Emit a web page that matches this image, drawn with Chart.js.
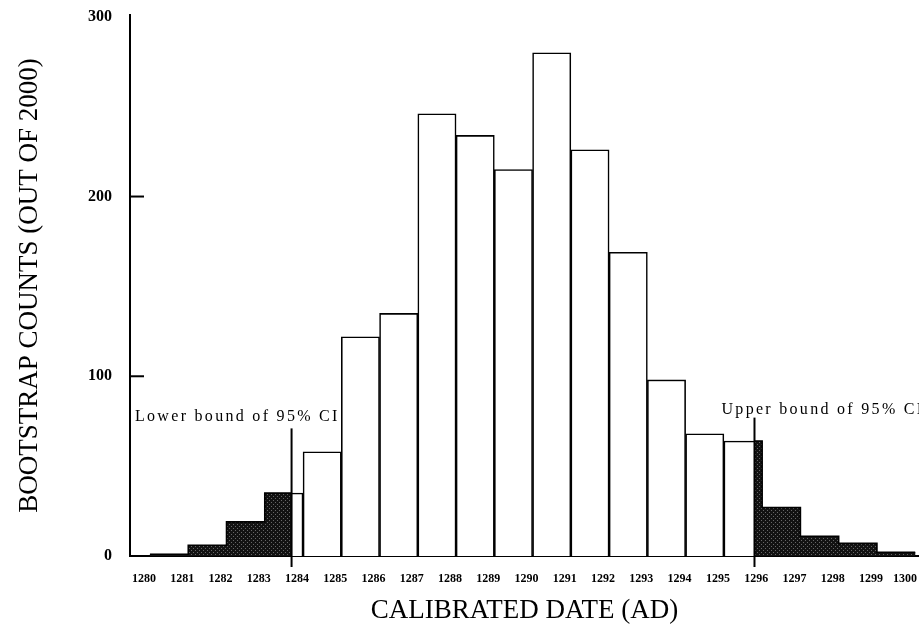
<!DOCTYPE html>
<html>
<head>
<meta charset="utf-8">
<script src="https://cdn.jsdelivr.net/npm/chart.js@4/dist/chart.umd.min.js"></script>
<style>
  html, body { margin: 0; padding: 0; background: #fff; }
  #wrap { width: 919px; height: 627px; }
</style>
</head>
<body>
<div id="wrap"><canvas id="histChart"></canvas></div>
<script>
// bin start years, each bin one year wide
var years = [1280, 1281, 1282, 1283, 1284, 1285, 1286, 1287, 1288, 1289,
             1290, 1291, 1292, 1293, 1294, 1295, 1296, 1297, 1298, 1299];
var counts = [1, 6, 19, 35, 58, 122, 135, 246, 234, 215,
              280, 226, 169, 98, 68, 64, 27, 11, 7, 2];
var ciBounds = [1283.7, 1295.8];
var ciMarkTops = [71, 77];
var ciLabels = ["Lower bound of 95% CI", "Upper bound of 95% CI"];
var xTicks = [1280, 1281, 1282, 1283, 1284, 1285, 1286, 1287, 1288, 1289, 1290,
              1291, 1292, 1293, 1294, 1295, 1296, 1297, 1298, 1299, 1300];
var yTicks = [0, 100, 200, 300];

var serif = "'Liberation Serif', 'DejaVu Serif', serif";

// bars centred in their one-year bins
var barData = years.map(function (y, i) { return { x: y + 0.5, y: counts[i] }; });

function binCount(v) {
    return counts[Math.floor(v) - years[0]];
}

// shaded tails outside the CI, as stepped outlines
var lowerTail = [];
years.forEach(function (y, i) {
    if (y < ciBounds[0]) lowerTail.push({ x: y, y: counts[i] });
});
lowerTail.push({ x: ciBounds[0], y: binCount(ciBounds[0]) });

var upperTail = [{ x: ciBounds[1], y: binCount(ciBounds[1]) }];
years.forEach(function (y, i) {
    if (y > ciBounds[1]) upperTail.push({ x: y, y: counts[i] });
});
upperTail.push({ x: years[years.length - 1] + 1, y: counts[counts.length - 1] });

// stipple pattern for the tails
function makeStipple() {
    var c = document.createElement('canvas');
    c.width = 4; c.height = 4;
    var g = c.getContext('2d');
    g.fillStyle = '#121212';
    g.fillRect(0, 0, 4, 4);
    g.fillStyle = '#666';
    g.fillRect(1, 0, 1, 1);
    g.fillRect(3, 2, 1, 1);
    return g.createPattern(c, 'repeat');
}
var stipple = makeStipple();

var innerTicks = {
    id: 'innerTicks',
    afterDatasetsDraw: function (chart) {
        var ctx = chart.ctx, ys = chart.scales.y, left = chart.chartArea.left;
        ctx.save();
        ctx.strokeStyle = '#000';
        ctx.lineWidth = 2;
        yTicks.forEach(function (v) {
            if (v === 0 || v === 300) return;
            var py = ys.getPixelForValue(v);
            ctx.beginPath();
            ctx.moveTo(left, py);
            ctx.lineTo(left + 14, py);
            ctx.stroke();
        });
        ctx.restore();
    }
};

// year labels under the axis, nudged left like the original print
var yearLabels = {
    id: 'yearLabels',
    afterDraw: function (chart) {
        var ctx = chart.ctx, xs = chart.scales.x;
        ctx.save();
        ctx.fillStyle = '#000';
        ctx.font = 'bold 12px ' + serif;
        ctx.textAlign = 'center';
        ctx.textBaseline = 'middle';
        xTicks.forEach(function (v) {
            var px = Math.min(xs.getPixelForValue(v) - 6, chart.width - 14);
            ctx.fillText(String(v), px, chart.chartArea.bottom + 23);
        });
        ctx.restore();
    }
};

var ciMarks = {
    id: 'ciMarks',
    afterDraw: function (chart) {
        var ctx = chart.ctx, xs = chart.scales.x, ys = chart.scales.y;
        var labelOffsets = [-12, -8];
        ctx.save();
        ctx.strokeStyle = '#000';
        ctx.lineWidth = 2;
        ctx.fillStyle = '#000';
        ctx.font = '16px ' + serif;
        ctx.letterSpacing = '2.3px';
        ctx.textBaseline = 'middle';
        ctx.textAlign = 'left';
        ciBounds.forEach(function (b, i) {
            var px = xs.getPixelForValue(b);
            var top = ys.getPixelForValue(ciMarkTops[i]);
            ctx.beginPath();
            ctx.moveTo(px, chart.chartArea.bottom + 11);
            ctx.lineTo(px, top);
            ctx.stroke();
            var tx = i === 0 ? chart.chartArea.left + 5 : px - 33;
            ctx.fillText(ciLabels[i], tx, top + labelOffsets[i]);
        });
        ctx.restore();
    }
};

var histChart = new Chart(document.getElementById('histChart').getContext('2d'), {
    type: 'bar',
    data: {
        datasets: [
            {
                type: 'line',
                data: lowerTail,
                stepped: 'before',
                fill: 'origin',
                backgroundColor: stipple,
                borderColor: '#000',
                borderWidth: 1.6,
                pointRadius: 0,
                order: 1
            },
            {
                type: 'line',
                data: upperTail,
                stepped: 'before',
                fill: 'origin',
                backgroundColor: stipple,
                borderColor: '#000',
                borderWidth: 1.6,
                pointRadius: 0,
                order: 1
            },
            {
                data: barData,
                backgroundColor: '#fff',
                borderColor: '#000',
                borderWidth: 1.6,
                barPercentage: 1,
                categoryPercentage: 1,
                order: 2
            }
        ]
    },
    options: {
        responsive: true,
        maintainAspectRatio: false,
        animation: false,
        layout: { padding: { top: 15, right: 0, left: 0, bottom: 0 } },
        plugins: {
            legend: { display: false },
            tooltip: { enabled: false }
        },
        scales: {
            x: {
                type: 'linear',
                offset: false,
                min: 1279.477,
                max: 1300.1,
                afterBuildTicks: function (s) {
                    s.ticks = xTicks.map(function (v) { return { value: v }; });
                },
                afterFit: function (s) {
                    s.height = 71;
                    s.paddingLeft = 0;
                    s.paddingRight = 0;
                },
                grid: { display: false, drawTicks: false },
                border: { display: true, color: '#000', width: 2 },
                ticks: { display: false },
                title: {
                    display: true,
                    text: 'CALIBRATED DATE (AD)',
                    color: '#000',
                    font: { family: serif, size: 27 },
                    padding: { top: 0, bottom: 0 }
                }
            },
            y: {
                min: 0,
                max: 301,
                afterBuildTicks: function (s) {
                    s.ticks = yTicks.map(function (v) { return { value: v }; });
                },
                afterFit: function (s) {
                    s.width = 130;
                    s.paddingTop = 0;
                    s.paddingBottom = 0;
                },
                grid: { display: false, drawTicks: false },
                border: { display: true, color: '#000', width: 2 },
                ticks: {
                    padding: 18,
                    color: '#000',
                    font: { family: serif, size: 16, weight: 'bold' }
                },
                title: {
                    display: true,
                    text: 'BOOTSTRAP COUNTS (OUT OF 2000)',
                    color: '#000',
                    font: { family: serif, size: 27 },
                    padding: { top: 14, bottom: 0 }
                }
            }
        }
    },
    plugins: [innerTicks, yearLabels, ciMarks]
});
</script>
</body>
</html>
